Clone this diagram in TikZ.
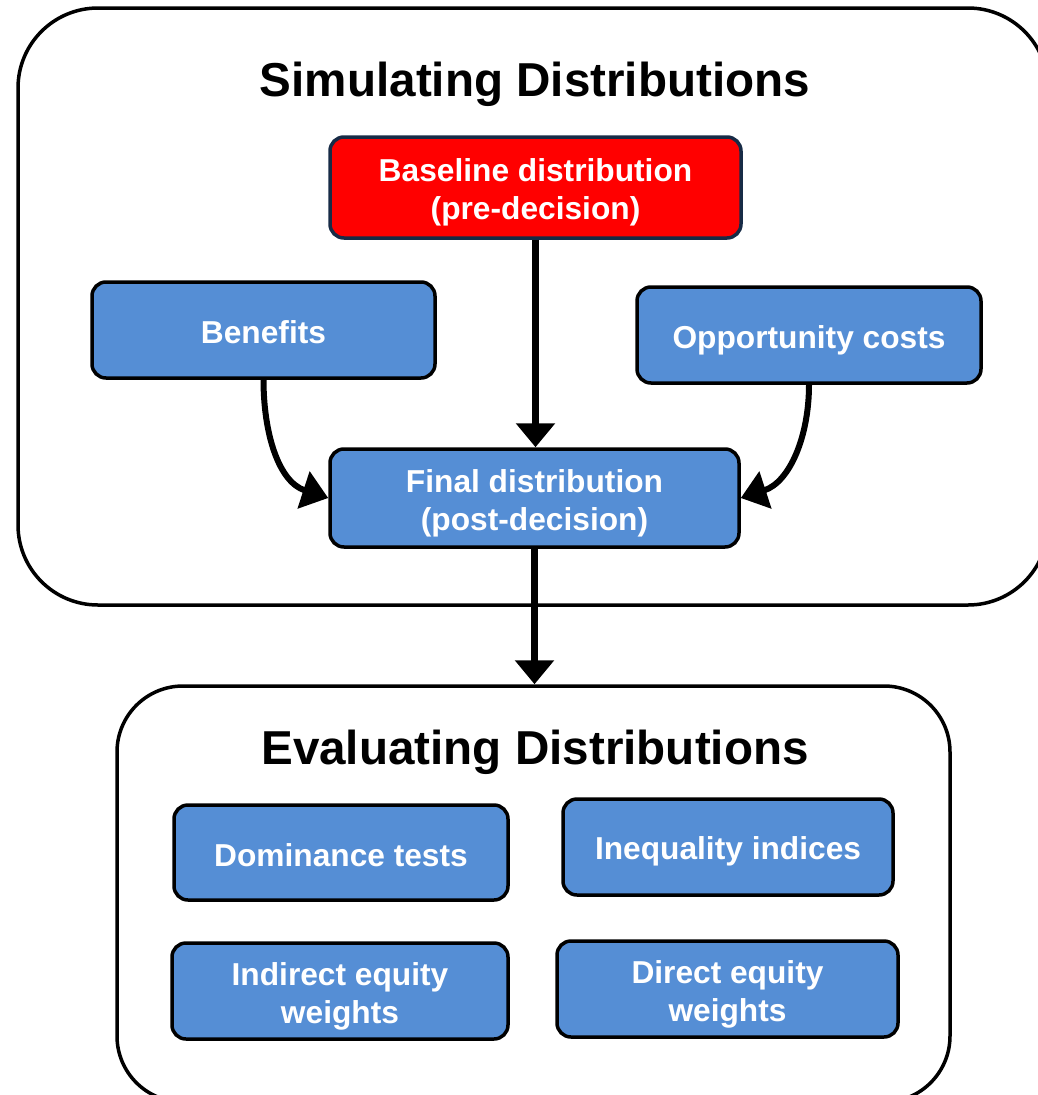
\documentclass[tikz,border=0pt]{standalone}
\usepackage{fontspec}
\setmainfont{Liberation Sans}
\usetikzlibrary{arrows.meta}
\definecolor{boxblue}{HTML}{558ED5}
\definecolor{navyedge}{RGB}{23,43,70}
\newcommand\txtdrop[1]{\rule{0pt}{#1pt}}
\tikzset{
  boxnode/.style={draw=black, fill=boxblue, line width=3.5pt, rounded corners=14pt,
    text=white, font=\bfseries\fontsize{31.7}{38}\selectfont, align=center, inner sep=0pt},
  frame/.style={draw=black, line width=3.5pt, fill=none, inner sep=0pt},
  title/.style={font=\bfseries\fontsize{47.6}{52}\selectfont, text=black},
  bigarrow/.style={line width=7pt, -{Triangle[length=24pt,width=38pt]}},
  curvearrow/.style={line width=6pt, -{Triangle[length=26pt,width=38pt]}}
}
\begin{document}
\begin{tikzpicture}[x=1pt,y=-1pt]
\useasboundingbox (0,0) rectangle (1038,1095);
\begin{scope}
\clip (0,0) rectangle (1038,1095);
% outer frames
\node[frame, rounded corners=80pt, minimum width=1030pt, minimum height=597pt] (sim) at (533,306.5) {};
\node[frame, rounded corners=66pt, minimum width=833pt, minimum height=416pt] (eval) at (533.5,894) {};
\end{scope}
% titles
\node[title] (simtitle) at (535,84) {Simulating Distributions};
\node[title] (evaltitle) at (535,752) {Evaluating Distributions};
% upper nodes
\node[boxnode, fill=red, draw=navyedge, minimum width=411pt, minimum height=101pt] (base) at (535.5,187.5) {\txtdrop{33}Baseline distribution\\(pre-decision)};
\node[boxnode, minimum width=343pt, minimum height=96pt] (ben) at (263.5,330) {\txtdrop{27}Benefits};
\node[boxnode, minimum width=344pt, minimum height=96pt] (opp) at (809,335) {\txtdrop{33}Opportunity costs};
\node[boxnode, minimum width=409pt, minimum height=98pt] (fin) at (534.5,498) {\txtdrop{33}Final distribution\\(post-decision)};
% lower nodes
\node[boxnode, minimum width=334pt, minimum height=95pt] (dom) at (341,852.5) {\txtdrop{29}Dominance tests};
\node[boxnode, minimum width=330pt, minimum height=96pt] (ineq) at (728,847) {\txtdrop{31}Inequality indices};
\node[boxnode, minimum width=336pt, minimum height=96pt] (ind) at (340,991) {\txtdrop{33}Indirect equity\\weights};
\node[boxnode, minimum width=341pt, minimum height=96pt] (dir) at (727.5,989) {\txtdrop{33}Direct equity\\weights};
% connectors
\draw[bigarrow] (base.south) -- (base.south |- fin.north);
\draw[curvearrow] (ben.south) to[out=-90, in=162] (fin.west);
\draw[curvearrow] (opp.south) to[out=-90, in=18] (fin.east);
\draw[bigarrow] (fin.south) -- (fin.south |- eval.north);
\end{tikzpicture}
\end{document}
